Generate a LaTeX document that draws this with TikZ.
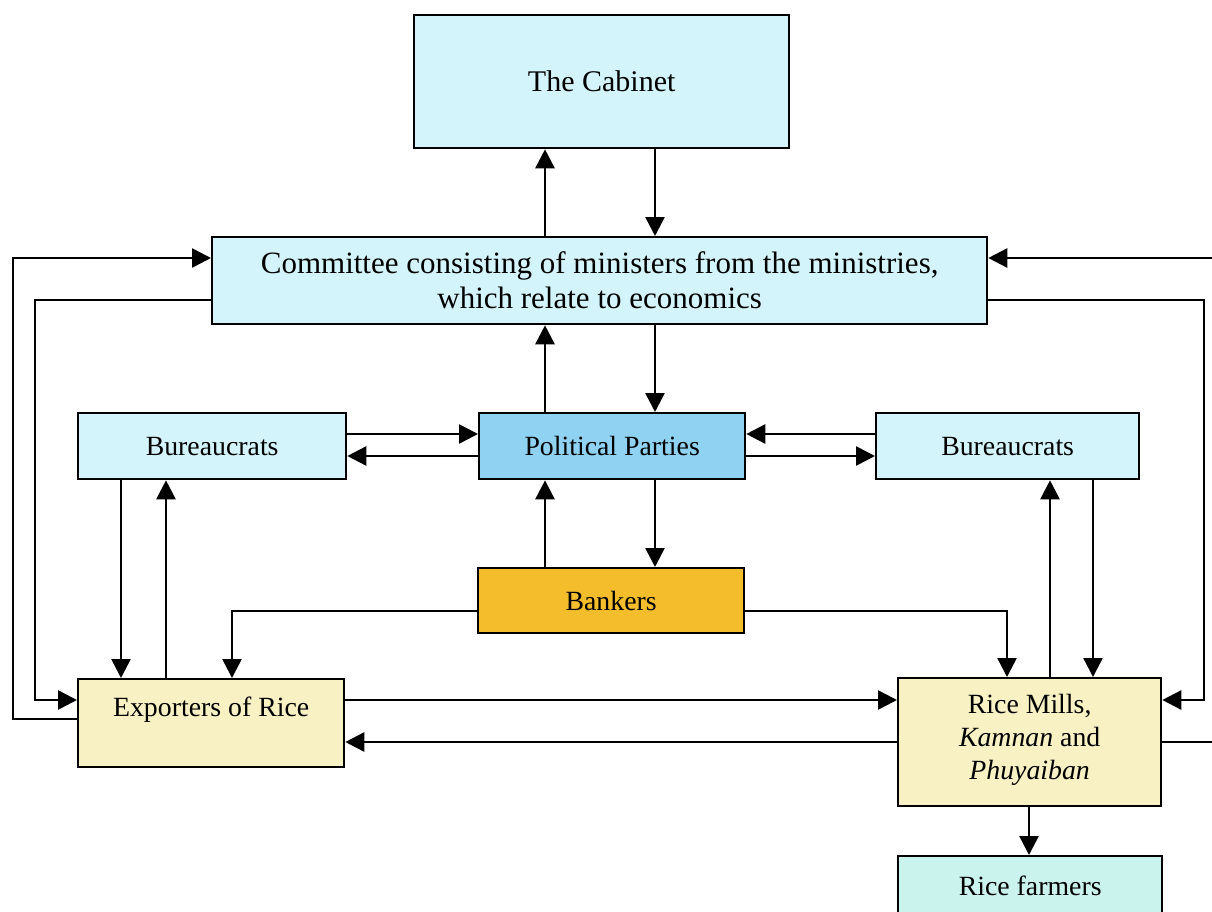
\documentclass[tikz,border=0pt]{standalone}
\usepackage{fontspec}
\setmainfont{Liberation Serif}
\usetikzlibrary{arrows.meta}
\definecolor{paleblue}{HTML}{D3F4FA}
\definecolor{partyblue}{HTML}{8FD2F1}
\definecolor{bankgold}{HTML}{F3BD2C}
\definecolor{paleyellow}{HTML}{F8F1C4}
\definecolor{palegreen}{HTML}{CBF3EE}
\tikzset{
  box/.style={draw=black, line width=2.3pt, anchor=north west, align=center,
    inner sep=0pt, font=\fontsize{27.8}{33}\selectfont},
  bigtext/.style={font=\fontsize{31}{35}\selectfont},
  arr/.style={line width=2.6pt, -{Triangle[length=19pt,width=19pt]}},
}
\begin{document}
\begin{tikzpicture}[x=1pt,y=-1pt]
\useasboundingbox (0,0) rectangle (1212,912);

% boxes
\node[box,font=\fontsize{30}{34}\selectfont,fill=paleblue,minimum width=375pt,minimum height=133pt] (cab) at (413,14) {The Cabinet};
\node[box,bigtext,fill=paleblue,minimum width=775pt,minimum height=87pt] (com) at (211,236)
  {Committee consisting of ministers from the ministries,\\which relate to economics};
\node[box,fill=paleblue,minimum width=268pt,minimum height=66pt] (burl) at (77,412) {Bureaucrats};
\node[box,fill=partyblue,minimum width=266pt,minimum height=66pt] (pp) at (478,412) {Political Parties};
\node[box,fill=paleblue,minimum width=263pt,minimum height=66pt] (burr) at (875,412) {Bureaucrats};
\node[box,fill=bankgold,minimum width=266pt,minimum height=65pt] (bank) at (477,567) {Bankers};
\node[box,fill=paleyellow,minimum width=266pt,minimum height=88pt,text depth=32pt] (exp) at (77,678) {Exporters of Rice};
\node[box,fill=paleyellow,minimum width=263pt,minimum height=128pt,text depth=10pt] (mill) at (897,677)
  {Rice Mills,\\\textit{Kamnan} and\\\textit{Phuyaiban}};
\node[box,fill=palegreen,minimum width=264pt,minimum height=60pt] (farm) at (897,855) {Rice farmers};

% column and row guides for the connectors
\coordinate (xa) at (545,0);
\coordinate (xb) at (655,0);
\coordinate (xc) at (121,0);
\coordinate (xd) at (166,0);
\coordinate (xe) at (232,0);
\coordinate (xf) at (1007,0);
\coordinate (xg) at (1050,0);
\coordinate (xh) at (1093,0);
\coordinate (xi) at (1029,0);
\coordinate (xl1) at (13,0);
\coordinate (xl2) at (35,0);
\coordinate (xr1) at (1240,0);
\coordinate (xr2) at (1204,0);
\coordinate (yc1) at (0,258);
\coordinate (yc2) at (0,300);
\coordinate (yp1) at (0,434);
\coordinate (yp2) at (0,456);
\coordinate (yk) at (0,611);
\coordinate (ye1) at (0,700);
\coordinate (ye2) at (0,742);
\coordinate (yl1) at (0,719);

% central column
\draw[arr] (com.north -| xa) -- (cab.south -| xa);
\draw[arr] (cab.south -| xb) -- (com.north -| xb);
\draw[arr] (pp.north -| xa) -- (com.south -| xa);
\draw[arr] (com.south -| xb) -- (pp.north -| xb);
\draw[arr] (bank.north -| xa) -- (pp.south -| xa);
\draw[arr] (pp.south -| xb) -- (bank.north -| xb);

% bureaucrats and political parties
\draw[arr] (burl.east |- yp1) -- (pp.west |- yp1);
\draw[arr] (pp.west |- yp2) -- (burl.east |- yp2);
\draw[arr] (burr.west |- yp1) -- (pp.east |- yp1);
\draw[arr] (pp.east |- yp2) -- (burr.west |- yp2);

% bureaucrats and the trade
\draw[arr] (burl.south -| xc) -- (exp.north -| xc);
\draw[arr] (exp.north -| xd) -- (burl.south -| xd);
\draw[arr] (mill.north -| xg) -- (burr.south -| xg);
\draw[arr] (burr.south -| xh) -- (mill.north -| xh);

% bankers to the trade
\draw[arr] (bank.west |- yk) -- (yk -| xe) -- (exp.north -| xe);
\draw[arr] (bank.east |- yk) -- (yk -| xf) -- (mill.north -| xf);

% exporters and mills
\draw[arr] (exp.east |- ye1) -- (mill.west |- ye1);
\draw[arr] (mill.west |- ye2) -- (exp.east |- ye2);
\draw[arr] (mill.south -| xi) -- (farm.north -| xi);

% outer loops to the committee
\draw[arr] (exp.west |- yl1) -- (yl1 -| xl1) -- (yc1 -| xl1) -- (com.west |- yc1);
\draw[arr] (com.west |- yc2) -- (yc2 -| xl2) -- (ye1 -| xl2) -- (exp.west |- ye1);
\draw[arr] (com.east |- yc2) -- (yc2 -| xr2) -- (ye1 -| xr2) -- (mill.east |- ye1);
\draw[arr] (mill.east |- ye2) -- (ye2 -| xr1) -- (yc1 -| xr1) -- (com.east |- yc1);
\end{tikzpicture}
\end{document}
